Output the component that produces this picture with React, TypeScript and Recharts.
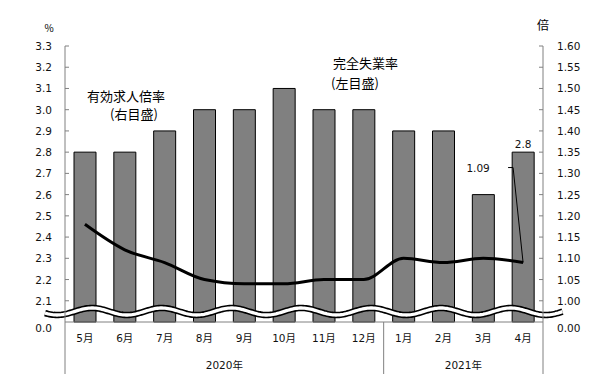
import React from 'react';
import {
  ComposedChart,
  Bar,
  Line,
  XAxis,
  YAxis,
  ReferenceArea,
  LabelList,
  Customized,
} from 'recharts';

// ---- data ----
const months = ['5月', '6月', '7月', '8月', '9月', '10月', '11月', '12月', '1月', '2月', '3月', '4月'];
const years = ['2020年', '2021年'];
const yearSpans = [8, 4];
const unemployment = [2.8, 2.8, 2.9, 3.0, 3.0, 3.1, 3.0, 3.0, 2.9, 2.9, 2.6, 2.8];
const jobRatio = [1.18, 1.12, 1.09, 1.05, 1.04, 1.04, 1.05, 1.05, 1.1, 1.09, 1.1, 1.09];
const leftTicks = [2.0, 2.1, 2.2, 2.3, 2.4, 2.5, 2.6, 2.7, 2.8, 2.9, 3.0, 3.1, 3.2, 3.3];
const leftTickLabels = ['0.0', '2.1', '2.2', '2.3', '2.4', '2.5', '2.6', '2.7', '2.8', '2.9', '3.0', '3.1', '3.2', '3.3'];
const rightTicks = [0.95, 1.0, 1.05, 1.1, 1.15, 1.2, 1.25, 1.3, 1.35, 1.4, 1.45, 1.5, 1.55, 1.6];
const rightTickLabels = ['0.00', '1.00', '1.05', '1.10', '1.15', '1.20', '1.25', '1.30', '1.35', '1.40', '1.45', '1.50', '1.55', '1.60'];
const leftUnit = '%';
const rightUnit = '倍';
const ratioTitle = ['有効求人倍率', '(右目盛)'];
const unempTitle = ['完全失業率', '(左目盛)'];

const data = months.map((m, i) => ({ month: m, unemp: unemployment[i], ratio: jobRatio[i] }));

// ---- layout ----
const W = 610;
const H = 390;
const MARGIN = { top: 46, right: 0, bottom: 16, left: 0 };
const LEFT_W = 65;
const RIGHT_W = 67;
const X_H = 52;
const PLOT_L = MARGIN.left + LEFT_W;
const PLOT_R = W - MARGIN.right - RIGHT_W;
const PLOT_B = H - MARGIN.bottom - X_H;
const BAND = (PLOT_R - PLOT_L) / months.length;

const NUM_FONT = "'DejaVu Sans', 'Noto Sans CJK JP', sans-serif";
const CJK_FONT = "'Noto Sans CJK JP', sans-serif";
const AXIS_GRAY = '#808080';

const LeftTick = (props: any) => {
  const { y, payload } = props;
  const i = leftTicks.indexOf(payload.value);
  const isBase = i === 0;
  return (
    <g>
      {!isBase && <line x1={PLOT_L} x2={PLOT_L + 4} y1={y} y2={y} stroke={AXIS_GRAY} strokeWidth={1} />}
      <text
        x={PLOT_L - 13}
        y={y + (isBase ? 6 : 0)}
        textAnchor="end"
        dominantBaseline="central"
        fontFamily={NUM_FONT}
        fontSize={10.5}
        fill="#111"
      >
        {leftTickLabels[i]}
      </text>
    </g>
  );
};

const RightTick = (props: any) => {
  const { y, payload } = props;
  const i = rightTicks.indexOf(payload.value);
  const isBase = i === 0;
  return (
    <g>
      {!isBase && <line x1={PLOT_R - 4} x2={PLOT_R} y1={y} y2={y} stroke={AXIS_GRAY} strokeWidth={1} />}
      <text
        x={PLOT_R + 14}
        y={y + (isBase ? 6 : 0)}
        textAnchor="start"
        dominantBaseline="central"
        fontFamily={NUM_FONT}
        fontSize={10.5}
        fill="#111"
      >
        {rightTickLabels[i]}
      </text>
    </g>
  );
};

const MonthTick = (props: any) => {
  const { x, index } = props;
  const els: any[] = [];
  let start = 0;
  years.forEach((yr, g) => {
    const n = yearSpans[g];
    if (index === start) {
      els.push(
        <line key={'s' + g} x1={x - BAND / 2} x2={x - BAND / 2} y1={PLOT_B} y2={PLOT_B + X_H} stroke={AXIS_GRAY} strokeWidth={1} />
      );
      els.push(
        <text
          key={'y' + g}
          x={x - BAND / 2 + (n * BAND) / 2}
          y={PLOT_B + 43}
          textAnchor="middle"
          dominantBaseline="central"
          fontFamily={NUM_FONT}
          fontSize={10.5}
          fill="#111"
        >
          {yr}
        </text>
      );
    }
    start += n;
  });
  if (index === months.length - 1) {
    els.push(
      <line key="end" x1={x + BAND / 2} x2={x + BAND / 2} y1={PLOT_B} y2={PLOT_B + X_H} stroke={AXIS_GRAY} strokeWidth={1} />
    );
  }
  return (
    <g>
      <text
        x={x}
        y={PLOT_B + 16}
        textAnchor="middle"
        dominantBaseline="central"
        fontFamily={NUM_FONT}
        fontSize={10.5}
        fill="#111"
      >
        {months[index]}
      </text>
      {els}
    </g>
  );
};

const WaveShape = (props: any) => {
  const { x, y, width, height } = props;
  const mid = y + height * 0.505;
  const pts: string[] = [];
  for (let px = x - 20; px <= x + width + 20; px += 1.5) {
    const py = mid - 3.5 * Math.cos((2 * Math.PI * (px - (x + 27))) / 69.8);
    pts.push(`${px.toFixed(2)},${py.toFixed(2)}`);
  }
  const d = 'M' + pts.join(' L');
  return (
    <g>
      <path d={d} fill="none" stroke="#000" strokeWidth={6.5} />
      <path d={d} fill="none" stroke="#fff" strokeWidth={3.3} />
    </g>
  );
};

const LineLabel = (props: any) => {
  const { x, y, index, value } = props;
  if (index !== months.length - 1) return null;
  return (
    <g>
      <polyline
        points={`${x - 15},${y - 95} ${x - 10},${y - 95} ${x},${y}`}
        fill="none"
        stroke="#000"
        strokeWidth={1}
      />
      <text x={x - 45} y={y - 95} textAnchor="middle" dominantBaseline="central" fontFamily={NUM_FONT} fontSize={10.5} fill="#111">
        {Number(value).toFixed(2)}
      </text>
    </g>
  );
};

const BarLabel = (props: any) => {
  const { x, y, width, index, value } = props;
  if (index !== months.length - 1) return null;
  return (
    <text x={x + width / 2} y={y - 8} textAnchor="middle" dominantBaseline="central" fontFamily={NUM_FONT} fontSize={10.5} fill="#111">
      {Number(value).toFixed(1)}
    </text>
  );
};

const Annotations = () => (
  <g fontFamily={CJK_FONT} fill="#000">
    <text x={49} y={27} fontSize={10} textAnchor="middle" dominantBaseline="central">{leftUnit}</text>
    <text x={543} y={24} fontSize={12} textAnchor="middle" dominantBaseline="central">{rightUnit}</text>
    <text x={87} y={95} fontSize={13} dominantBaseline="central">{ratioTitle[0]}</text>
    <text x={110} y={113} fontSize={13} dominantBaseline="central">{ratioTitle[1]}</text>
    <text x={333} y={62} fontSize={13} dominantBaseline="central">{unempTitle[0]}</text>
    <text x={331} y={82} fontSize={13} dominantBaseline="central">{unempTitle[1]}</text>
  </g>
);

export default function App() {
  return (
    <div style={{ position: 'absolute', left: 0, top: 0, width: W, height: H, background: '#fff' }}>
      <ComposedChart width={W} height={H} data={data} margin={MARGIN}>
        <XAxis
          dataKey="month"
          height={X_H}
          interval={0}
          tickLine={false}
          tickSize={0}
          axisLine={{ stroke: AXIS_GRAY }}
          tick={<MonthTick />}
        />
        <YAxis
          yAxisId="left"
          orientation="left"
          width={LEFT_W}
          domain={[leftTicks[0], leftTicks[leftTicks.length - 1]]}
          ticks={leftTicks}
          interval={0}
          tickLine={false}
          tickSize={0}
          axisLine={{ stroke: AXIS_GRAY }}
          tick={<LeftTick />}
        />
        <YAxis
          yAxisId="right"
          orientation="right"
          width={RIGHT_W}
          domain={[rightTicks[0], rightTicks[rightTicks.length - 1]]}
          ticks={rightTicks}
          interval={0}
          tickLine={false}
          tickSize={0}
          axisLine={{ stroke: AXIS_GRAY }}
          tick={<RightTick />}
        />
        <Bar
          yAxisId="left"
          dataKey="unemp"
          barSize={22}
          fill="#808080"
          stroke="#000"
          strokeWidth={1}
          isAnimationActive={false}
        >
          <LabelList dataKey="unemp" content={<BarLabel />} />
        </Bar>
        <ReferenceArea
          yAxisId="left"
          y1={leftTicks[0]}
          y2={leftTicks[1]}
          ifOverflow="visible"
          shape={<WaveShape />}
          {...({ zIndex: 450 } as any)}
        />
        <Line
          yAxisId="right"
          dataKey="ratio"
          type="monotone"
          stroke="#000"
          strokeWidth={3}
          dot={false}
          activeDot={false}
          isAnimationActive={false}
        >
          <LabelList dataKey="ratio" content={<LineLabel />} />
        </Line>
        <Customized component={Annotations} />
      </ComposedChart>
    </div>
  );
}
